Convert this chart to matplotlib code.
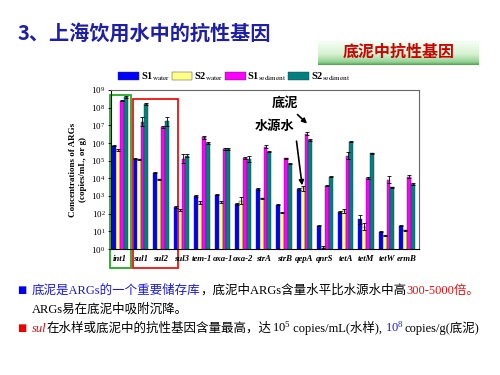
import numpy as np
import matplotlib
matplotlib.use("Agg")
import matplotlib.pyplot as plt
from matplotlib.patches import Rectangle
from matplotlib.transforms import blended_transform_factory

plt.rcParams['font.family'] = ['Liberation Serif', 'Noto Sans CJK SC', 'DejaVu Sans']
plt.rcParams['mathtext.fontset'] = 'stix'

# gene names and log10 concentrations
genes = ['int1', 'sul1', 'sul2', 'sul3', 'tem-1', 'oxa-1', 'oxa-2', 'strA',
         'strB', 'qepA', 'qnrS', 'tetA', 'tetM', 'tetW', 'ermB']
s1_water = [5.85, 5.12, 4.32, 2.36, 3.00, 3.08, 2.53, 3.38, 2.51, 3.40, 1.32, 2.08, 1.68, 0.98, 1.32]
s2_water = [5.60, 5.08, 3.95, 2.20, 2.62, 2.66, 2.74, 2.87, 2.06, 3.44, 0.13, 2.15, 1.26, 0.74, 1.06]
s1_sed = [8.40, 7.20, 6.93, 5.10, 6.33, 5.67, 5.14, 5.80, 5.14, 6.52, 3.57, 5.27, 4.02, 3.91, 4.10]
s2_sed = [8.60, 8.20, 7.23, 5.28, 5.99, 5.67, 5.10, 5.50, 4.82, 6.18, 4.10, 6.08, 5.42, 3.50, 3.67]
# error bars (log10 units)
e1_water = [0.03, 0.03, 0.03, 0.05, 0.04, 0.03, 0.05, 0.06, 0.03, 0.05, 0.02, 0.05, 0.25, 0.03, 0.04]
e2_water = [0.08, 0.03, 0.03, 0.04, 0.08, 0.03, 0.18, 0.03, 0.03, 0.15, 0.05, 0.10, 0.20, 0.03, 0.03]
e1_sed = [0.05, 0.25, 0.06, 0.25, 0.08, 0.05, 0.05, 0.06, 0.03, 0.08, 0.03, 0.20, 0.06, 0.20, 0.10]
e2_sed = [0.05, 0.05, 0.25, 0.10, 0.04, 0.04, 0.18, 0.03, 0.03, 0.06, 0.03, 0.04, 0.03, 0.03, 0.05]

series = [(s1_water, e1_water, '#0000ff', r'S1$_{\mathrm{water}}$'),
          (s2_water, e2_water, '#ffff88', r'S2$_{\mathrm{water}}$'),
          (s1_sed, e1_sed, '#ff00ff', r'S1$_{\mathrm{sediment}}$'),
          (s2_sed, e2_sed, '#008080', r'S2$_{\mathrm{sediment}}$')]

fig = plt.figure(figsize=(5, 3.75), dpi=100)
fig.patch.set_facecolor('white')
cjk = ['Noto Sans CJK SC', 'DejaVu Sans']

# title
fig.text(0.036, 0.912, '3、上海饮用水中的抗性基因', fontsize=14.5, color='#1f1fa6',
         fontweight='bold', va='center', family=cjk)

# green header box with gradient
bax = fig.add_axes([318 / 500, 1 - 65 / 375, 161 / 500, 24 / 375])
grad = np.linspace(0, 1, 64)
cols = np.array([[0.96, 1.0, 0.96], [0.84, 0.95, 0.82], [0.58, 0.82, 0.58], [0.30, 0.65, 0.30]])
pos = np.array([0, 0.55, 0.88, 1.0])
img = np.stack([np.interp(grad, pos, cols[:, k]) for k in range(3)], axis=-1)[:, None, :]
bax.imshow(img, aspect='auto', extent=(0, 1, 0, 1))
bax.set_axis_off()
bax.text(0.5, 0.55, '底泥中抗性基因', fontsize=11.5, color='#cc0000', fontweight='bold',
         ha='center', va='center', family=cjk)

ax = fig.add_axes([0.222, 0.336, 0.616, 0.424])
x = np.arange(len(genes))
w = 0.19
for k, (vals, errs, color, label) in enumerate(series):
    vals = np.array(vals)
    errs = np.array(errs)
    h = 10 ** vals
    lo = h - 10 ** (vals - errs)
    hi = 10 ** (vals + errs) - h
    ax.bar(x + (k - 1.5) * w, h, width=w, color=color, edgecolor='#333333',
           linewidth=0.3, label=label)
    ax.errorbar(x + (k - 1.5) * w, h, yerr=[lo, hi], fmt='none', ecolor='black',
                elinewidth=0.6, capsize=1.2, capthick=0.6)

ax.set_yscale('log')
ax.set_ylim(1, 1e9)
ax.set_xlim(-0.44, 14.58)
ax.set_yticks([10 ** i for i in range(10)])
ax.set_yticklabels([r'$\mathregular{10^{%d}}$' % i for i in range(10)], fontsize=6.5)
ax.yaxis.set_minor_locator(matplotlib.ticker.NullLocator())
ax.set_xticks(x)
ax.set_xticklabels(genes, fontsize=6.3, fontstyle='italic', fontweight='bold')
ax.tick_params(axis='x', length=0, pad=4)
ax.tick_params(axis='y', length=2, width=0.6, pad=2)
for s in ax.spines.values():
    s.set_linewidth(0.8)
    s.set_color('#666666')
ax.spines['left'].set_color('black')
ax.spines['bottom'].set_color('black')
ax.set_ylabel('Concentrations of ARGs\n(copies/mL, or g)', fontsize=6.5, fontweight='bold',
              labelpad=3, linespacing=1.3)

fig.legend(loc='center left', bbox_to_anchor=(0.218, 1 - 77 / 375), ncol=4, frameon=False,
           handlelength=2.0, handleheight=0.9, columnspacing=0.15, handletextpad=0.15,
           prop={'size': 7.5, 'weight': 'bold', 'family': 'Liberation Serif'})

# highlight boxes around int1 and sul1/sul2
tr = blended_transform_factory(ax.transData, ax.transAxes)
ax.add_patch(Rectangle((-0.49, -0.12), 1.03, 1.09, transform=tr, fill=False,
                       edgecolor='#22aa22', linewidth=1.3, clip_on=False))
ax.add_patch(Rectangle((0.63, -0.12), 2.2, 1.063, transform=tr, fill=False,
                       edgecolor='#ee1111', linewidth=1.3, clip_on=False))

# arrows
ax.annotate('底泥', xy=(9.12, 10 ** 7.1), xytext=(8.05, 10 ** 8.27), fontsize=9.5,
            fontweight='bold', family=cjk, ha='center', va='center',
            arrowprops=dict(arrowstyle='-|>', color='black', lw=1.2, mutation_scale=7,
                            shrinkA=2, shrinkB=0))
ax.annotate('水源水', xy=(8.88, 10 ** 3.6), xytext=(7.56, 10 ** 6.97), fontsize=9.5,
            fontweight='bold', family=cjk, ha='center', va='center',
            arrowprops=dict(arrowstyle='-|>', color='black', lw=1.2, mutation_scale=7,
                            shrinkA=4, shrinkB=0, relpos=(1.0, 0.3)))

renderer = fig.canvas.get_renderer()


def line(segments, x0, y0, size=9):
    xpos = x0
    for txt, color, style in segments:
        t = fig.text(xpos, y0, txt, fontsize=size, color=color, fontstyle=style,
                     va='baseline', ha='left')
        bb = t.get_window_extent(renderer)
        xpos = fig.transFigure.inverted().transform((bb.x1, 0))[0]


fig.text(0.034, 1 - 293 / 375, '■', fontsize=7, color='#0000ee', family='DejaVu Sans', va='baseline')
line([('底泥是ARGs的一个重要储存库', '#1a1ad0', 'normal'),
      ('，底泥中ARGs含量水平比水源水中高', 'black', 'normal'),
      ('300-5000倍。', '#dd1111', 'normal')], 0.064, 1 - 294 / 375)
line([('ARGs易在底泥中吸附沉降。', 'black', 'normal')], 0.064, 1 - 313 / 375)
fig.text(0.034, 1 - 331 / 375, '■', fontsize=7, color='#ee0000', family='DejaVu Sans', va='baseline')
line([('sul', '#dd1111', 'italic'),
      ('在水样或底泥中的抗性基因含量最高，达', 'black', 'normal'),
      (r'$\mathregular{10^5}$', 'black', 'normal'),
      (' copies/mL(水样), ', 'black', 'normal'),
      (r'$\mathregular{10^8}$', '#1a1ad0', 'normal'),
      ('copies/g(底泥)', 'black', 'normal')], 0.064, 1 - 332 / 375)

fig.savefig('out.png', dpi=100, facecolor='white')
